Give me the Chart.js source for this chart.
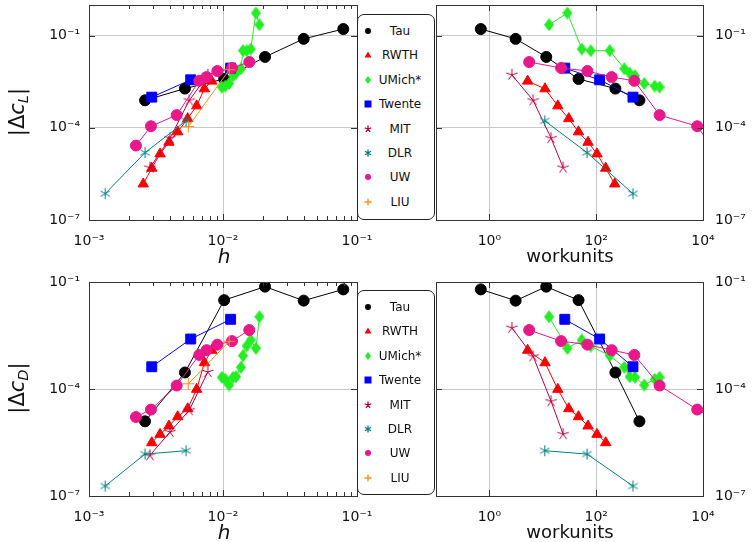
<!DOCTYPE html>
<html>
<head>
<meta charset="utf-8">
<script src="https://cdn.jsdelivr.net/npm/chart.js@4.4.1/dist/chart.umd.min.js"></script>
<style>
  body { margin: 0; background: #fff; font-family: "DejaVu Sans", sans-serif; }
  #wrap { position: relative; width: 755px; height: 542px; overflow: hidden; }
  #wrap canvas { position: absolute; left: 0; top: 0; }
  .lbl { position: absolute; transform: translate(-50%, -50%); white-space: nowrap; color: #111; }
  .ylbl { transform: translate(-50%, -50%) rotate(-90deg); font-size: 21px; }
  .ylbl sub { font-size: 0.7em; vertical-align: -0.3em; }
  .legend { position: absolute; left: 357px; width: 78px; border: 1px solid #222; border-radius: 7px;
            background: #fff; box-sizing: border-box; }
  .row { position: absolute; left: 0; width: 100%; height: 16px; transform: translateY(-50%); font-size: 12px; }
  .row svg { position: absolute; left: 5px; top: 3px; }
  .row span { position: absolute; left: 42px; top: 0; transform: translateX(-50%); line-height: 16px; white-space: nowrap; color: #111; }
</style>
</head>
<body>
<div id="wrap">
  <canvas id="clH" width="755" height="542"></canvas>
  <canvas id="clW" width="755" height="542"></canvas>
  <canvas id="cdH" width="755" height="542"></canvas>
  <canvas id="cdW" width="755" height="542"></canvas>

  <div class="lbl ylbl" style="left:18px;top:112px">|Δ<i>c</i><sub><i>L</i></sub>|</div>
  <div class="lbl ylbl" style="left:18px;top:388px">|Δ<i>c</i><sub><i>D</i></sub>|</div>
  <div class="lbl" style="left:224px;top:256px;font-size:20px;font-style:italic">h</div>
  <div class="lbl" style="left:224px;top:532px;font-size:20px;font-style:italic">h</div>
  <div class="lbl" style="left:570px;top:255px;font-size:18px">workunits</div>
  <div class="lbl" style="left:570px;top:531px;font-size:18px">workunits</div>

  <div class="legend" id="legTop" style="top:14px;height:206px"></div>
  <div class="legend" id="legBot" style="top:290px;height:205px"></div>
</div>

<script>
// ---- data ----
const teams = ['Tau', 'RWTH', 'UMich*', 'Twente', 'MIT', 'DLR', 'UW', 'LIU'];

const tauH = [0.079, 0.040, 0.0206, 0.0102, 0.0052, 0.00262];
const tauWork = [0.69, 3.1, 11.6, 46.7, 229, 645];
const tauCl = [0.165, 0.079, 0.0204, 0.0039, 0.0019, 0.00079];
const tauCd = [0.062, 0.030, 0.074, 0.031, 0.00029, 0.0000124];

const rwthH = [0.00824, 0.00726, 0.00636, 0.00545, 0.00459, 0.00395, 0.00339, 0.00294, 0.00254];
const rwthWork = [5.2, 11.0, 19.1, 30.6, 46.5, 70.3, 103.5, 150.6, 222];
const rwthCl = [0.00333, 0.00187, 0.00052, 0.0002, 0.000074, 0.000034, 0.0000142, 0.00000485, 0.00000149];
const rwthCd = [0.00122, 0.000546, 0.000098, 0.000028, 0.0000167, 0.0000092, 0.00000536, 0.00000312, null];

const umichH = [0.0187, 0.0176, 0.0161, 0.0150, 0.0141, 0.0136, 0.0125, 0.0119, 0.0111, 0.0104, 0.0098];
const umichWork = [13.1, 28.9, 53.6, 78.9, 179, 336, 423, 532, 796, 1240, 1538];
const umichCl = [0.228, 0.548, 0.0368, 0.0324, 0.0328, 0.0084, 0.00607, 0.00495, 0.00278, 0.00229, 0.00212];
const umichCd = [0.0106, 0.00138, 0.00237, 0.0016, 0.00086, 0.000406, 0.000221, 0.000213, 0.000129, 0.000187, 0.000213];

const twenteH = [0.0114, 0.00574, 0.00294];
const twenteWork = [25.8, 116, 488];
const twenteCl = [0.0088, 0.00367, 0.001];
const twenteCd = [0.009, 0.00252, 0.00042];

const mitH = [0.0077, 0.0056, 0.00402, 0.00285];
const mitWork = [2.63, 6.59, 14.3, 24];
const mitCl = [0.00535, 0.00078, 0.000046, 0.00000507];
const mitCd = [0.0003, 0.0000253, 0.0000062, 0.00000138];
// the workunits cD panel shows different MIT values than the h panel
const mitCdWork = [0.0052, 0.00082, 0.000045, 0.0000054];

const dlrH = [0.0053, 0.00262, 0.00132];
const dlrWork = [10.9, 67.3, 488];
const dlrCl = [0.000169, 0.0000156, 0.00000072];
const dlrCd = [0.00000186, 0.0000015, 0.00000019];

const uwH = [0.0157, 0.01167, 0.00907, 0.00755, 0.00665, 0.00451, 0.0029, 0.00224];
const uwWork = [5.55, 22, 68.4, 195, 518, 1538, 7790, 14000];
const uwCl = [0.0139, 0.0089, 0.0071, 0.0045, 0.0034, 0.00026, 0.000113, 0.0000265];
const uwCd = [0.0045, 0.0022, 0.00175, 0.00123, 0.0009, 0.000125, 0.0000265, 0.0000164];

const liuH = [0.01115, 0.00551];
const liuCl = [0.0078, 0.00011];
const liuCd = [0.00217, 0.00014];

const hTicks = [1e-3, 1e-2, 1e-1];
const workTicks = [1, 100, 10000];
const errTicks = [1e-7, 1e-4, 1e-1];

// ---- styling ----
const colors = ['#000000', '#ff0000', '#22ee22', '#0000ff', '#bf0040', '#008080', '#e8178a', '#ff8c1a'];

function spokeMarker(n, r, color, startDeg) {
  const c = document.createElement('canvas');
  const s = 2 * r + 2;
  c.width = s; c.height = s;
  const ctx = c.getContext('2d');
  ctx.strokeStyle = color;
  ctx.lineWidth = 1;
  ctx.beginPath();
  for (let k = 0; k < n; k++) {
    const a = (startDeg + k * 360 / n) * Math.PI / 180;
    ctx.moveTo(s / 2, s / 2);
    ctx.lineTo(s / 2 + r * Math.cos(a), s / 2 + r * Math.sin(a));
  }
  ctx.stroke();
  return c;
}

// pgfplots-like diamond, a bit taller than wide
function diamondMarker(w, h, color) {
  const c = document.createElement('canvas');
  c.width = w; c.height = h;
  const ctx = c.getContext('2d');
  ctx.fillStyle = color;
  ctx.beginPath();
  ctx.moveTo(w / 2, 0); ctx.lineTo(w, h / 2); ctx.lineTo(w / 2, h); ctx.lineTo(0, h / 2);
  ctx.closePath();
  ctx.fill();
  return c;
}

const markers = [
  { pointStyle: 'circle', radius: 5.5 },
  { pointStyle: 'triangle', radius: 6 },
  { pointStyle: diamondMarker(10, 13, colors[2]), radius: 6 },
  { pointStyle: 'rect', radius: 7 },
  { pointStyle: spokeMarker(5, 6, colors[4], -90), radius: 6 },
  { pointStyle: spokeMarker(6, 5.5, colors[5], 90), radius: 6 },
  { pointStyle: 'circle', radius: 5.5 },
  { pointStyle: 'cross', radius: 6 }
];

function series(xs, ys) {
  return xs.map((x, i) => ({ x: x, y: ys[i] }));
}

function dataset(i, pts) {
  return {
    label: teams[i],
    data: pts,
    showLine: true,
    borderColor: colors[i],
    backgroundColor: colors[i],
    borderWidth: 1,
    pointBackgroundColor: colors[i],
    pointBorderColor: colors[i],
    pointBorderWidth: 1,
    pointStyle: markers[i].pointStyle,
    pointRadius: markers[i].radius,
    order: teams.length - 1 - i
  };
}

const SUP = { '-': '⁻', '0': '⁰', '1': '¹', '2': '²', '3': '³', '4': '⁴', '5': '⁵', '6': '⁶', '7': '⁷', '8': '⁸', '9': '⁹' };
function pow10Label(v) {
  const e = Math.round(Math.log10(v));
  return '10' + String(e).split('').map(c => SUP[c]).join('');
}

// frame, inner tick marks and minor ticks
const framePlugin = {
  id: 'frame',
  afterDraw(chart, args, opts) {
    const { ctx, chartArea: a } = chart;
    const xs = chart.scales.x, ys = chart.scales.y;
    ctx.save();
    ctx.strokeStyle = '#333';
    ctx.lineWidth = 1;
    ctx.beginPath();
    (opts.xMinor || []).forEach(v => {
      const px = Math.round(xs.getPixelForValue(v)) + 0.5;
      ctx.moveTo(px, a.bottom); ctx.lineTo(px, a.bottom - 4);
      ctx.moveTo(px, a.top); ctx.lineTo(px, a.top + 4);
    });
    (opts.xMajor || []).forEach(v => {
      const px = Math.round(xs.getPixelForValue(v)) + 0.5;
      ctx.moveTo(px, a.bottom); ctx.lineTo(px, a.bottom - 6);
      ctx.moveTo(px, a.top); ctx.lineTo(px, a.top + 6);
    });
    (opts.yMajor || []).forEach(v => {
      const py = Math.round(ys.getPixelForValue(v)) + 0.5;
      ctx.moveTo(a.left, py); ctx.lineTo(a.left + 6, py);
      ctx.moveTo(a.right, py); ctx.lineTo(a.right - 6, py);
    });
    ctx.stroke();
    ctx.strokeRect(Math.round(a.left) + 0.5, Math.round(a.top) + 0.5,
                   Math.round(a.right - a.left), Math.round(a.bottom - a.top));
    ctx.restore();
  }
};

const hMinor = [];
[1e-3, 1e-2].forEach(d => { for (let k = 2; k <= 9; k++) hMinor.push(k * d); });

function makePanel(id, datasets, p) {
  new Chart(document.getElementById(id), {
    type: 'scatter',
    data: { datasets: datasets },
    options: {
      responsive: false,
      animation: false,
      devicePixelRatio: 1,
      layout: { padding: p.padding, autoPadding: false },
      plugins: {
        legend: { display: false },
        tooltip: { enabled: false },
        frame: { xMinor: p.xMinor, xMajor: p.xMajor, yMajor: [1e-4, 1e-1] }
      },
      scales: {
        x: {
          type: 'logarithmic',
          min: p.xMin, max: p.xMax,
          afterBuildTicks: s => { s.ticks = p.xTicks.map(v => ({ value: v })); },
          afterFit: s => { s.height = p.xHeight; s.paddingLeft = 0; s.paddingRight = 0; },
          ticks: {
            callback: v => pow10Label(v),
            autoSkip: false, maxRotation: 0,
            padding: 13, color: '#111',
            font: { family: 'DejaVu Sans', size: 14 }
          },
          grid: { color: '#c8c8c8', drawTicks: false },
          border: { display: false }
        },
        y: {
          type: 'logarithmic',
          position: p.yPos,
          min: p.yMin, max: p.yMax,
          afterBuildTicks: s => { s.ticks = errTicks.map(v => ({ value: v })); },
          afterFit: s => { s.width = p.yWidth; s.paddingTop = 0; s.paddingBottom = 0; },
          ticks: {
            callback: v => pow10Label(v),
            autoSkip: false,
            padding: p.yPos === 'left' ? 9 : 12, color: '#111',
            font: { family: 'DejaVu Sans', size: 14 }
          },
          grid: { color: '#c8c8c8', drawTicks: false },
          border: { display: false }
        }
      }
    },
    plugins: [framePlugin]
  });
}

const hSets = [tauH, rwthH, umichH, twenteH, mitH, dlrH, uwH, liuH];
const workSets = [tauWork, rwthWork, umichWork, twenteWork, mitWork, dlrWork, uwWork, null];
const clSets = [tauCl, rwthCl, umichCl, twenteCl, mitCl, dlrCl, uwCl, liuCl];
const cdSets = [tauCd, rwthCd, umichCd, twenteCd, mitCd, dlrCd, uwCd, liuCd];
const cdWorkSets = [tauCd, rwthCd, umichCd, twenteCd, mitCdWork, dlrCd, uwCd, liuCd];

const clHData = teams.map((t, i) => dataset(i, series(hSets[i], clSets[i])));
const cdHData = teams.map((t, i) => dataset(i, series(hSets[i], cdSets[i])));
const clWData = [], cdWData = [];
teams.forEach((t, i) => {
  if (!workSets[i]) return;
  clWData.push(dataset(i, series(workSets[i], clSets[i])));
  cdWData.push(dataset(i, series(workSets[i], cdWorkSets[i])));
});

const leftCommon = { xMin: 1e-3, xMax: 1e-1, xTicks: hTicks, xMinor: hMinor, xMajor: [1e-2], yPos: 'left', yWidth: 89 };
const rightCommon = { xMin: 0.1, xMax: 1e4, xTicks: workTicks, xMinor: [], xMajor: [1, 100], yPos: 'right', yWidth: 52 };

makePanel('clH', clHData, Object.assign({}, leftCommon, {
  padding: { left: 0, top: 5, right: 398, bottom: 0 }, xHeight: 322, yMin: 1e-7, yMax: 1 }));
makePanel('clW', clWData, Object.assign({}, rightCommon, {
  padding: { left: 436, top: 5, right: 0, bottom: 0 }, xHeight: 322, yMin: 1e-7, yMax: 1 }));
makePanel('cdH', cdHData, Object.assign({}, leftCommon, {
  padding: { left: 0, top: 282, right: 398, bottom: 0 }, xHeight: 46, yMin: 1e-7, yMax: 1e-1 }));
makePanel('cdW', cdWData, Object.assign({}, rightCommon, {
  padding: { left: 436, top: 282, right: 0, bottom: 0 }, xHeight: 46, yMin: 1e-7, yMax: 1e-1 }));

// ---- legends ----
function legendSvg(i) {
  const c = colors[i];
  let shape = '';
  switch (i) {
    case 0: case 6: shape = `<circle cx="5" cy="5" r="3" fill="${c}"/>`; break;
    case 1: shape = `<polygon points="5,1.5 8.5,7.5 1.5,7.5" fill="${c}"/>`; break;
    case 2: shape = `<polygon points="5,1 8,5 5,9 2,5" fill="${c}"/>`; break;
    case 3: shape = `<rect x="1.5" y="1.5" width="7" height="7" fill="${c}"/>`; break;
    case 4: shape = `<path d="M5 5L5 1.5M5 5L8.3 3.9M5 5L7 8M5 5L3 8M5 5L1.7 3.9" stroke="${c}" stroke-width="1.3" fill="none"/>`; break;
    case 5: shape = `<path d="M5 1.5L5 8.5M2 3.2L8 6.8M8 3.2L2 6.8" stroke="${c}" stroke-width="1.3" fill="none"/>`; break;
    case 7: shape = `<path d="M5 1.5L5 8.5M1.5 5L8.5 5" stroke="${c}" stroke-width="1.3" fill="none"/>`; break;
  }
  return `<svg width="10" height="10" viewBox="0 0 10 10">${shape}</svg>`;
}

['legTop', 'legBot'].forEach(id => {
  const box = document.getElementById(id);
  teams.forEach((t, i) => {
    const row = document.createElement('div');
    row.className = 'row';
    row.style.top = (16 + 24.4 * i) + 'px';
    row.innerHTML = legendSvg(i) + '<span>' + t + '</span>';
    box.appendChild(row);
  });
});
</script>
</body>
</html>
